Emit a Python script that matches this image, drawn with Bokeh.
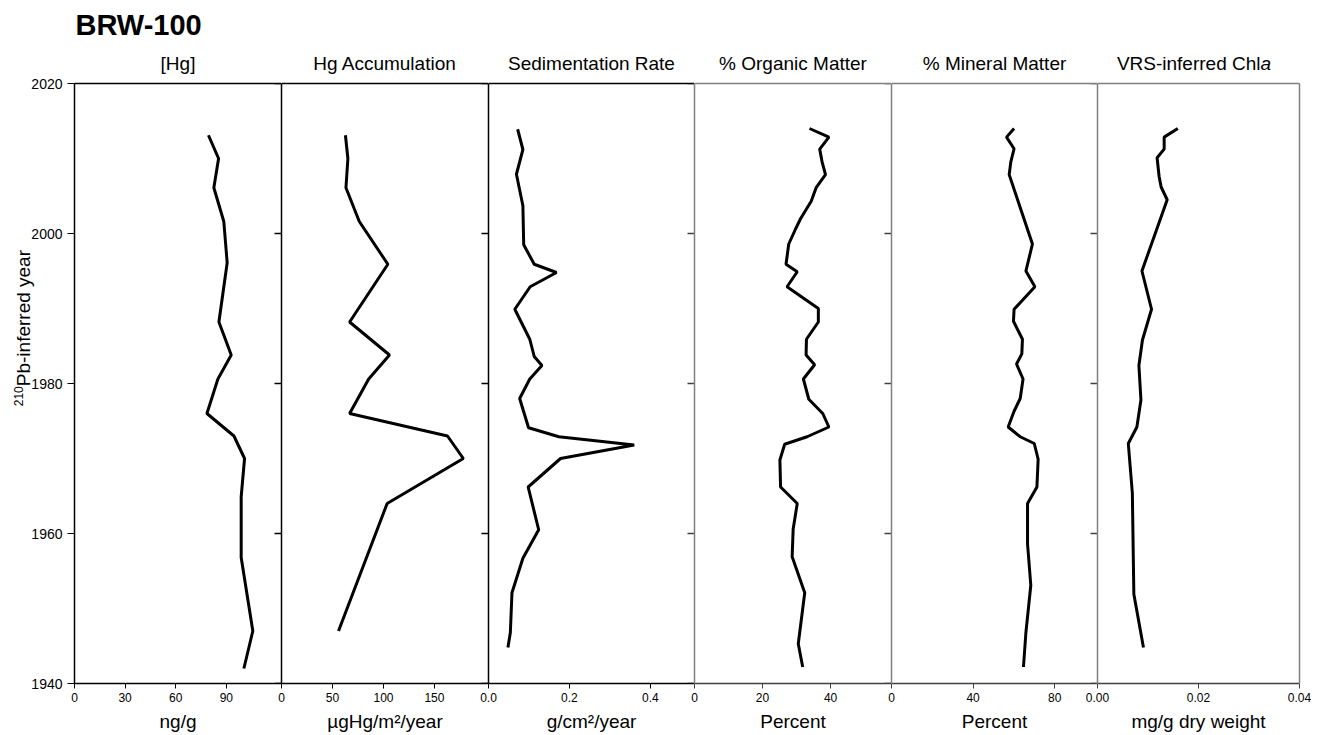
import math
from bokeh.plotting import figure
from bokeh.models import Range1d, LinearAxis, FixedTicker, Label, PrintfTickFormatter
from bokeh.layouts import row, column
from bokeh.embed import file_html
from bokeh.resources import INLINE

# ---------------- data ----------------
hg_year = [2013.1, 2010.0, 2006.1, 2001.6, 1996.1, 1988.2, 1983.8, 1980.6, 1976.0,
           1973.0, 1970.0, 1964.9, 1956.8, 1947.0, 1942.0]
hg_conc = [79.4, 85.4, 82.6, 88.5, 90.5, 85.6, 92.9, 85.0, 78.5,
           94.5, 100.8, 98.8, 98.8, 105.7, 100.4]

acc_year = [2013.1, 2010.0, 2006.1, 2001.6, 1995.9, 1988.2, 1983.8, 1980.6, 1976.0,
            1973.0, 1970.0, 1964.0, 1947.0]
acc_val = [62.7, 65.1, 63.2, 76.3, 104.3, 66.8, 105.9, 85.5, 66.8,
           162.8, 178.3, 103.6, 55.9]

sed_year = [2013.9, 2011.2, 2007.9, 2003.7, 1998.5, 1995.9, 1994.8, 1992.9, 1989.9,
            1985.9, 1983.6, 1982.4, 1980.6, 1978.0, 1974.1, 1972.9, 1971.8, 1970.0,
            1966.2, 1960.5, 1956.7, 1952.1, 1946.8, 1944.8]
sed_val = [0.072, 0.085, 0.069, 0.085, 0.087, 0.113, 0.168, 0.103, 0.065,
           0.102, 0.113, 0.132, 0.102, 0.077, 0.099, 0.174, 0.360, 0.178,
           0.098, 0.124, 0.085, 0.058, 0.054, 0.048]

org_year = [2014.0, 2012.85, 2011.25, 2009.55, 2007.85, 2006.16, 2004.3, 2002.0, 2000.6,
            1998.6, 1995.9, 1994.9, 1992.9, 1990.0, 1988.2, 1985.9, 1983.8, 1982.5,
            1980.6, 1977.9, 1976.0, 1974.2, 1972.9, 1971.9, 1969.8, 1966.2, 1964.0,
            1960.6, 1956.9, 1952.1, 1945.3, 1942.2]
org_val = [33.8, 39.5, 36.8, 37.5, 38.5, 35.8, 34.3, 31.2, 29.7,
           27.7, 26.9, 30.2, 27.2, 36.4, 36.4, 32.9, 32.8, 35.3,
           32.0, 33.6, 37.7, 39.5, 33.1, 26.5, 25.1, 25.3, 30.2,
           29.0, 28.7, 32.4, 30.5, 31.8]

min_year = [2014.0, 2012.85, 2011.3, 2009.55, 2007.85, 1998.6, 1995.0, 1992.9, 1989.9,
            1988.3, 1985.9, 1983.95, 1982.6, 1980.6, 1978.0, 1976.3, 1974.2, 1972.9,
            1972.0, 1969.9, 1966.2, 1964.0, 1958.6, 1953.1, 1946.8, 1942.2]
min_val = [60.1, 56.4, 60.1, 58.5, 57.7, 69.1, 65.9, 70.3, 60.1,
           59.8, 64.2, 63.9, 61.3, 64.5, 63.1, 60.1, 57.2, 63.1,
           70.0, 71.9, 71.3, 66.7, 66.7, 68.3, 65.9, 64.7]

chl_year = [2014.0, 2012.85, 2011.25, 2010.1, 2007.6, 2006.2, 2004.5, 1995.0, 1989.9,
            1985.8, 1982.4, 1977.8, 1974.2, 1972.0, 1965.4, 1951.9, 1944.8]
chl_val = [0.0159, 0.0132, 0.0132, 0.0118, 0.0122, 0.0126, 0.0138, 0.0088, 0.0107,
           0.0089, 0.0082, 0.0086, 0.0078, 0.0061, 0.0069, 0.0072, 0.0091]

year_ticks = [1940, 1960, 1980, 2000, 2020]
hg_ticks = [0, 30, 60, 90]
acc_ticks = [0, 50, 100, 150]
sed_ticks = [0.0, 0.2, 0.4]
org_ticks = [0, 20, 40]
min_ticks = [0, 40, 80]
chl_ticks = [0.00, 0.02, 0.04]

main_title = "BRW-100"
titles = ["[Hg]", "Hg Accumulation", "Sedimentation Rate", "% Organic Matter",
          "% Mineral Matter", "VRS-inferred Chl"]
title_italic_suffix = "a"
units = ["ng/g", "\u00b5gHg/m\u00b2/year", "g/cm\u00b2/year", "Percent", "Percent",
         "mg/g dry weight"]
y_title_sup = "210"
y_title = "Pb-inferred year"

# ---------------- styling / layout (page pixels) ----------------
FONT = "Liberation Sans"
PAGE_W = 1311
HEAD_H = 83            # header strip with titles (overlaps the row by TOP)
ROW_H = 660            # panel row height
TOP = 8                # frame top at page y = 83
BOTTOM = 52            # frame bottom at page y = 683
YLAB_W = 50            # strip that holds the rotated y title
OVER = 12              # overlap of neighbouring panels (for boundary tick labels)
BLACK = "#000000"
GRAY = "#808080"
DARK = "#404040"
edges = [74, 281, 488, 694, 891, 1097, 1299]   # panel frame boundaries

yr = Range1d(1940, 2020)


def hide_grid(p):
    p.xgrid.visible = False
    p.ygrid.visible = False


def line_axis(col):
    a = LinearAxis(ticker=FixedTicker(ticks=[]))
    a.axis_line_color = col
    a.axis_line_width = 1.5
    a.major_tick_out = 0
    a.major_tick_in = 0
    a.minor_tick_out = 0
    a.minor_tick_in = 0
    a.major_label_standoff = 0
    return a


def panel(xmax, ticks, fmt, unit, xs, ys, border_col, bottom_col, right_col,
          idx, last=False):
    frame_w = edges[idx + 1] - edges[idx]
    first = idx == 0
    left = (edges[0] - (YLAB_W - 26)) if first else OVER
    right = 12 if last else 0
    p = figure(width=left + frame_w + right, height=ROW_H,
               x_range=Range1d(0, xmax), y_range=yr,
               output_backend="svg", toolbar_location=None,
               x_axis_location=None, y_axis_location=None,
               min_border_left=left, min_border_right=right,
               min_border_top=TOP, min_border_bottom=BOTTOM)
    hide_grid(p)
    p.outline_line_color = None
    p.background_fill_color = "white"
    p.border_fill_alpha = 0
    p.margin = (0, 0, 0, -26 if first else -OVER)

    # bottom axis
    xa = LinearAxis(ticker=FixedTicker(ticks=ticks), formatter=fmt, axis_label=unit)
    xa.axis_line_color = bottom_col
    xa.axis_line_width = 1.5
    xa.major_tick_line_color = bottom_col
    xa.major_tick_out = 5
    xa.major_tick_in = 0
    xa.minor_tick_out = 0
    xa.minor_tick_in = 0
    xa.major_label_standoff = 4
    xa.major_label_text_font = FONT
    xa.major_label_text_font_size = "12px"
    xa.major_label_text_color = BLACK
    xa.axis_label_standoff = 6
    xa.axis_label_text_font = FONT
    xa.axis_label_text_font_size = "19px"
    xa.axis_label_text_font_style = "normal"
    xa.axis_label_text_color = BLACK
    p.add_layout(xa, "below")

    # left border
    if first:
        ya = LinearAxis(ticker=FixedTicker(ticks=year_ticks))
        ya.axis_line_color = border_col
        ya.axis_line_width = 1.5
        ya.major_tick_line_color = border_col
        ya.major_tick_out = 7
        ya.major_tick_in = 0
        ya.minor_tick_out = 0
        ya.minor_tick_in = 0
        ya.major_label_standoff = 5
        ya.major_label_text_font = FONT
        ya.major_label_text_font_size = "14px"
        ya.major_label_text_color = BLACK
    else:
        ya = line_axis(border_col)
    p.add_layout(ya, "left")

    # top border (and right border of the last panel)
    p.add_layout(line_axis(border_col), "above")
    if last:
        p.add_layout(line_axis(border_col), "right")
    else:
        # year ticks of the next panel's border, pointing into this panel
        p.scatter(x=[xmax] * len(year_ticks), y=year_ticks, marker="dash", size=14,
                  line_color=right_col, line_width=1.5)

    p.line(xs, ys, line_color=BLACK, line_width=3)
    return p


p1 = panel(122.7, hg_ticks, PrintfTickFormatter(format="%d"), units[0],
           hg_conc, hg_year, BLACK, BLACK, BLACK, 0)
p2 = panel(203.0, acc_ticks, PrintfTickFormatter(format="%d"), units[1],
           acc_val, acc_year, BLACK, BLACK, BLACK, 1)
p3 = panel(0.509, sed_ticks, PrintfTickFormatter(format="%.1f"), units[2],
           sed_val, sed_year, BLACK, BLACK, DARK, 2)
p4 = panel(57.9, org_ticks, PrintfTickFormatter(format="%d"), units[3],
           org_val, org_year, GRAY, DARK, DARK, 3)
p5 = panel(101.0, min_ticks, PrintfTickFormatter(format="%d"), units[4],
           min_val, min_year, GRAY, DARK, DARK, 4)
p6 = panel(0.04, chl_ticks, PrintfTickFormatter(format="%.2f"), units[5],
           chl_val, chl_year, GRAY, DARK, DARK, 5, last=True)

# ---------------- header strip: main title and panel titles ----------------
head = figure(width=PAGE_W, height=HEAD_H, x_range=Range1d(0, PAGE_W),
              y_range=Range1d(HEAD_H, 0), output_backend="svg", toolbar_location=None,
              x_axis_location=None, y_axis_location=None, min_border=0)
hide_grid(head)
head.outline_line_color = None
head.add_layout(Label(x=75, y=24, text=main_title, text_align="left",
                      text_baseline="middle", text_font=FONT, text_font_size="29px",
                      text_font_style="bold", text_color=BLACK))
TITLE_Y = 63
for i, t in enumerate(titles):
    cx = (edges[i] + edges[i + 1]) / 2
    if i == len(titles) - 1:
        head.add_layout(Label(x=cx, y=TITLE_Y, x_offset=62, text=t, text_align="right",
                              text_baseline="middle", text_font=FONT,
                              text_font_size="19px", text_color=BLACK))
        head.add_layout(Label(x=cx, y=TITLE_Y, x_offset=62, text=title_italic_suffix,
                              text_align="left", text_baseline="middle",
                              text_font=FONT, text_font_size="19px",
                              text_font_style="italic", text_color=BLACK))
    else:
        head.add_layout(Label(x=cx, y=TITLE_Y, text=t, text_align="center",
                              text_baseline="middle", text_font=FONT,
                              text_font_size="19px", text_color=BLACK))

# ---------------- left strip: rotated y title ----------------
ROW_TOP = HEAD_H - TOP
ylab = figure(width=YLAB_W, height=ROW_H, x_range=Range1d(0, YLAB_W),
              y_range=Range1d(ROW_TOP + ROW_H, ROW_TOP), output_backend="svg",
              toolbar_location=None, x_axis_location=None, y_axis_location=None,
              min_border=0)
hide_grid(ylab)
ylab.outline_line_color = None
ylab.border_fill_alpha = 0
ylab.background_fill_alpha = 0
YL_X = 23
YL_JOIN = 408          # page y where the superscript meets the main text
ylab.add_layout(Label(x=YL_X, y=YL_JOIN, text=y_title, angle=math.pi / 2,
                      text_align="left", text_baseline="middle", text_font=FONT,
                      text_font_size="19px", text_color=BLACK))
ylab.add_layout(Label(x=YL_X - 5, y=YL_JOIN, text=y_title_sup, angle=math.pi / 2,
                      text_align="right", text_baseline="middle", text_font=FONT,
                      text_font_size="12px", text_color=BLACK))

panels = row(ylab, p1, p2, p3, p4, p5, p6, spacing=0)
panels.margin = (-TOP, 0, 0, 0)
layout = column(head, panels, spacing=0)

with open("out.html", "w") as f:
    f.write(file_html(layout, INLINE))
